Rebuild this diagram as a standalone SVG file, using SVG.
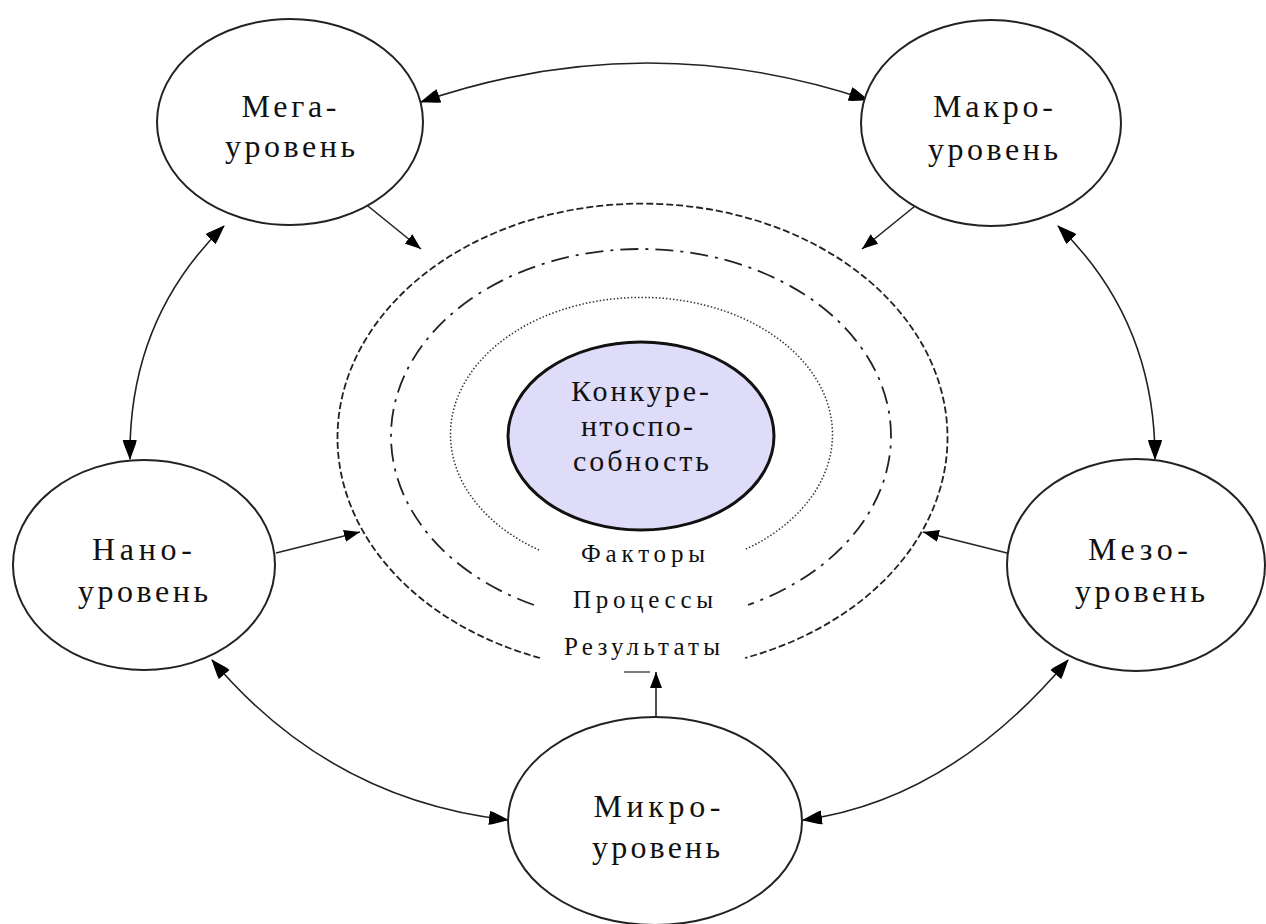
<svg xmlns="http://www.w3.org/2000/svg" width="1266" height="924" viewBox="0 0 1266 924">
<defs>
<style>
.node{fill:#ffffff;stroke:#222;stroke-width:2}
.core{fill:#dedcf8;stroke:#111;stroke-width:3}
.lbl{font-family:"Liberation Serif","Times New Roman",serif;font-size:32px;fill:#111;text-anchor:middle}
.clbl{font-family:"Liberation Serif","Times New Roman",serif;font-size:30px;fill:#111;text-anchor:middle}
.rlbl{font-family:"Liberation Serif","Times New Roman",serif;font-size:25px;fill:#111;text-anchor:middle}
.bi{fill:none;stroke:#222;stroke-width:1.6;marker-start:url(#big);marker-end:url(#big)}
.uni{fill:none;stroke:#222;stroke-width:1.6;marker-end:url(#small)}
.ring1{fill:none;stroke:#222;stroke-width:1.8;stroke-dasharray:7 3}
.ring2{fill:none;stroke:#222;stroke-width:1.8;stroke-dasharray:18 7 3 7}
.ring3{fill:none;stroke:#333;stroke-width:1.5;stroke-dasharray:1.5 2}
</style>
<marker id="big" viewBox="0 0 20 16" refX="19" refY="8" markerWidth="20" markerHeight="16" markerUnits="userSpaceOnUse" orient="auto-start-reverse">
<path d="M0,1 L4,2 L20,8 L4,14 L0,15 z" fill="#000"/>
</marker>
<marker id="small" viewBox="0 0 16 12" refX="16" refY="6" markerWidth="16" markerHeight="12" markerUnits="userSpaceOnUse" orient="auto">
<path d="M0,0 L16,6 L0,12 z" fill="#000"/>
</marker>
</defs>
<rect width="1266" height="924" fill="#ffffff"/>

<g id="rings">
<path class="ring1" d="M 540 658 A 305 234 0 1 1 745 658"/>
<path class="ring2" d="M 534 605 A 250 187 0 1 1 748 605"/>
<path class="ring3" d="M 539 550 A 191 137 0 1 1 744 550"/>
<text class="rlbl" x="643" y="562" textLength="124" lengthAdjust="spacing">Факторы</text>
<text class="rlbl" x="643" y="608" textLength="140" lengthAdjust="spacing">Процессы</text>
<text class="rlbl" x="642" y="655" textLength="156" lengthAdjust="spacing">Результаты</text>
</g>

<g id="connectors">
<path class="bi" d="M 421 102 Q 645 25 868 100"/>
<path class="bi" d="M 224 226 Q 128 320 130 459"/>
<path class="bi" d="M 1058 226 Q 1155 320 1155 459"/>
<path class="bi" d="M 212 660 Q 330 800 508 820"/>
<path class="bi" d="M 803 820 Q 950 800 1068 660"/>
<path class="uni" d="M 363 202 L 421 249"/>
<path class="uni" d="M 920 202 L 862 249"/>
<path class="uni" d="M 276 553 L 360 532"/>
<path class="uni" d="M 1007 553 L 923 532"/>
<path class="uni" d="M 656 717 L 656 672"/>
<path d="M 624 672 L 650 672" stroke="#222" stroke-width="1.2" fill="none"/>
</g>

<g id="core">
<ellipse class="core" cx="641" cy="436" rx="133" ry="94"/>
<text class="clbl" x="640" y="401" textLength="138" lengthAdjust="spacing">Конкуре-</text>
<text class="clbl" x="637" y="436" textLength="112" lengthAdjust="spacing">нтоспо-</text>
<text class="clbl" x="641" y="471" textLength="136" lengthAdjust="spacing">собность</text>
</g>

<g id="mega">
<ellipse class="node" cx="290" cy="122" rx="133" ry="103"/>
<text class="lbl" x="289" y="117" textLength="95" lengthAdjust="spacing">Мега-</text>
<text class="lbl" x="290" y="157" textLength="130" lengthAdjust="spacing">уровень</text>
</g>

<g id="makro">
<ellipse class="node" cx="991" cy="123" rx="130" ry="103"/>
<text class="lbl" x="993" y="117" textLength="120" lengthAdjust="spacing">Макро-</text>
<text class="lbl" x="993" y="160" textLength="130" lengthAdjust="spacing">уровень</text>
</g>

<g id="nano">
<ellipse class="node" cx="144" cy="565" rx="131" ry="105"/>
<text class="lbl" x="142" y="560" textLength="100" lengthAdjust="spacing">Нано-</text>
<text class="lbl" x="143" y="602" textLength="130" lengthAdjust="spacing">уровень</text>
</g>

<g id="mezo">
<ellipse class="node" cx="1136" cy="565" rx="129" ry="106"/>
<text class="lbl" x="1138" y="560" textLength="100" lengthAdjust="spacing">Мезо-</text>
<text class="lbl" x="1140" y="602" textLength="130" lengthAdjust="spacing">уровень</text>
</g>

<g id="mikro">
<ellipse class="node" cx="655" cy="821" rx="147" ry="104"/>
<text class="lbl" x="657" y="817" textLength="127" lengthAdjust="spacing">Микро-</text>
<text class="lbl" x="656" y="858" textLength="128" lengthAdjust="spacing">уровень</text>
</g>
</svg>
